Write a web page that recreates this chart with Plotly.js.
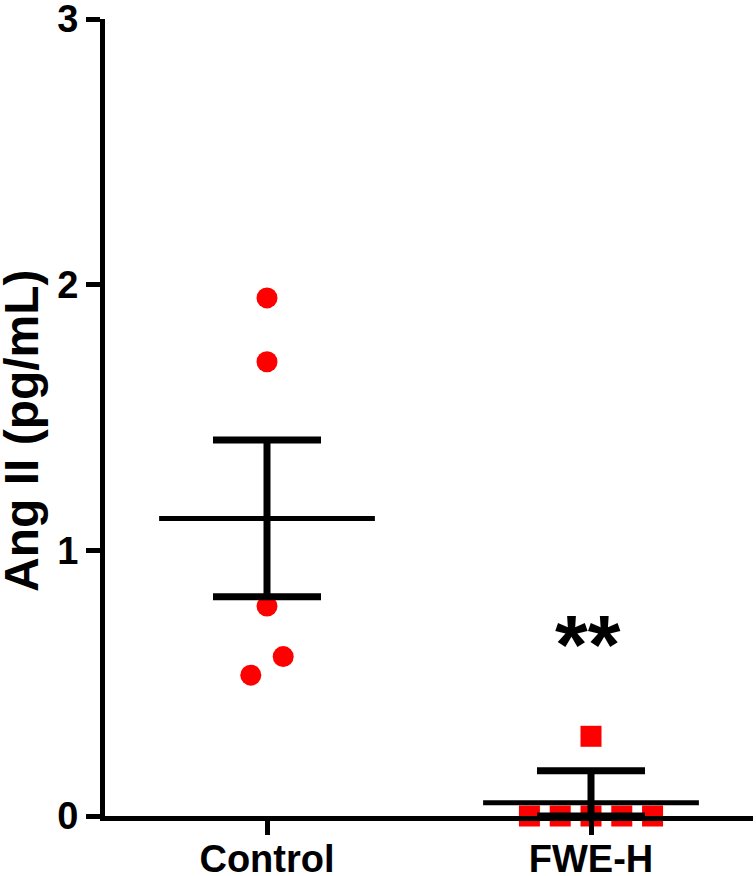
<!DOCTYPE html>
<html>
<head>
<meta charset="utf-8">
<script src="https://cdn.plot.ly/plotly-3.0.1.min.js"></script>
<style>
  html, body { margin: 0; padding: 0; background: #ffffff; }
  #chart { width: 756px; height: 876px; }
</style>
</head>
<body>
<div id="chart"></div>
<script>
// ---- data ----
const categories = ["Control", "FWE-H"];
const controlValues = [1.95, 1.71, 0.79, 0.60, 0.53];
const controlJitter = [0, 0, 0, 0.05, -0.05];          // horizontal scatter offsets
const fweValues = [0.30, 0, 0, 0, 0, 0];
const fweJitter = [0, -0.19, -0.095, 0, 0.095, 0.19];   // horizontal scatter offsets
const groupMeans = [1.12, 0.05];
const semUpper = [0.295, 0.12];
const semLower = [0.295, 0.05];
const yTickVals = [0, 1, 2, 3];
const yTickText = ["0", "1", "2", "3"];
const yTitle = "Ang II (pg/mL)";
const sigLabel = "**";

const FONT = "Liberation Sans, Arial, Helvetica, sans-serif";

const traces = [
  {
    type: "scatter", mode: "markers",
    x: controlValues.map((v, i) => 0 + controlJitter[i]),
    y: controlValues,
    marker: { symbol: "circle", size: 21, color: "#ff0000" },
    cliponaxis: false, hoverinfo: "y", showlegend: false
  },
  {
    type: "scatter", mode: "markers",
    x: fweValues.map((v, i) => 1 + fweJitter[i]),
    y: fweValues,
    marker: { symbol: "square", size: 21, color: "#ff0000" },
    cliponaxis: false, hoverinfo: "y", showlegend: false
  },
  {
    type: "scatter", mode: "markers",
    x: categories.map((c, i) => i),
    y: groupMeans,
    marker: { size: 1, color: "rgba(0,0,0,0)" },
    error_y: { type: "data", symmetric: false, array: semUpper, arrayminus: semLower,
               color: "#000000", thickness: 7, width: 54 },
    error_x: { type: "constant", value: 0.333, color: "#000000", thickness: 5, width: 0 },
    cliponaxis: false, hoverinfo: "y", showlegend: false
  }
];

const layout = {
  width: 756, height: 876,
  margin: { l: 105, r: 3, t: 19, b: 60 },
  paper_bgcolor: "#ffffff", plot_bgcolor: "#ffffff",
  font: { family: FONT, color: "#000000", size: 38, weight: "bold" },
  xaxis: {
    range: [-0.5, 1.5], tickvals: [0, 1], ticktext: categories,
    showgrid: false, zeroline: false, showline: true, linecolor: "#000000", linewidth: 5,
    ticks: "outside", ticklen: 14, tickwidth: 5, tickcolor: "#000000",
    ticklabelstandoff: -9, ticklabeloverflow: "allow",
    tickfont: { family: FONT, size: 38, weight: "bold", color: "#000000" },
    fixedrange: true
  },
  yaxis: {
    range: [0, 3], tickvals: yTickVals, ticktext: yTickText,
    showgrid: false, zeroline: false, showline: true, linecolor: "#000000", linewidth: 5,
    ticks: "outside", ticklen: 14, tickwidth: 5, tickcolor: "#000000",
    ticklabeloverflow: "allow",
    tickfont: { family: FONT, size: 38, weight: "bold", color: "#000000" },
    automargin: false, fixedrange: true
  },
  annotations: [
    { x: 22, y: 431, xref: "paper", yref: "paper", text: yTitle, showarrow: false,
      textangle: -90, xanchor: "center", yanchor: "middle",
      font: { family: FONT, size: 48, weight: "bold", color: "#000000" } },
    { x: 0.99, y: 0.645, xref: "x", yref: "y", text: sigLabel, showarrow: false,
      xanchor: "center", yanchor: "middle",
      font: { family: FONT, size: 84, weight: "bold", color: "#000000" } }
  ],
  showlegend: false
};

// place the rotated title annotation in pixel terms of the paper
(function () {
  const plotW = 756 - layout.margin.l - layout.margin.r;
  const plotH = 876 - layout.margin.t - layout.margin.b;
  const a = layout.annotations[0];
  a.x = (a.x - layout.margin.l) / plotW;
  a.y = (876 - layout.margin.b - a.y) / plotH;
})();

Plotly.newPlot("chart", traces, layout, { displayModeBar: false, staticPlot: true });
</script>
</body>
</html>
